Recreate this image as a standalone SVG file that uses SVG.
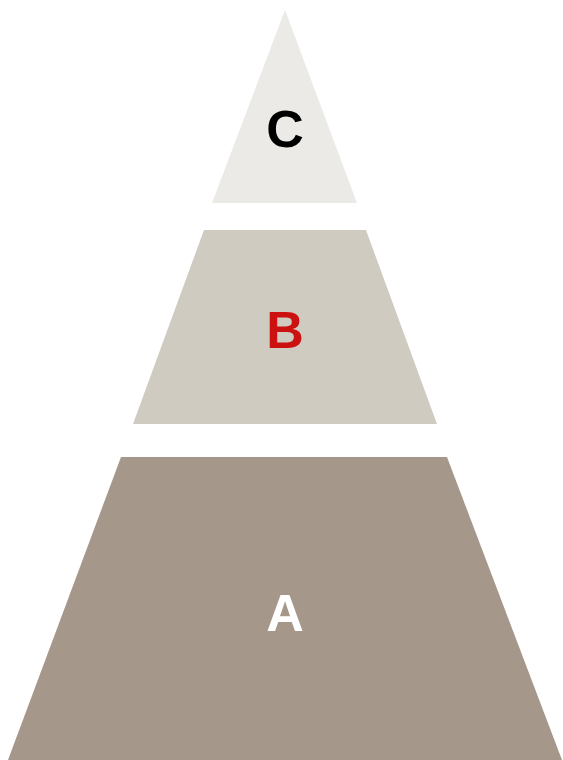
<svg xmlns="http://www.w3.org/2000/svg" width="563" height="760" viewBox="0 0 563 760">
<style>
text{font-family:"Liberation Sans",Arial,sans-serif;font-weight:bold;font-size:52px;text-anchor:middle}
</style>
<rect width="563" height="760" fill="#ffffff"/>
<g id="node-C">
<polygon points="285,10 357,203 212,203" fill="#EBEAE6"/>
<text x="285" y="147" fill="#000000">C</text>
</g>
<g id="node-B">
<polygon points="204,230 366,230 437,424 133,424" fill="#CFCBC1"/>
<text x="285" y="348" fill="#CC1111">B</text>
</g>
<g id="node-A">
<polygon points="121,457 447,457 562,760 8,760" fill="#A6978B"/>
<text x="285" y="631" fill="#ffffff">A</text>
</g>
<g id="connectors"></g>
</svg>
